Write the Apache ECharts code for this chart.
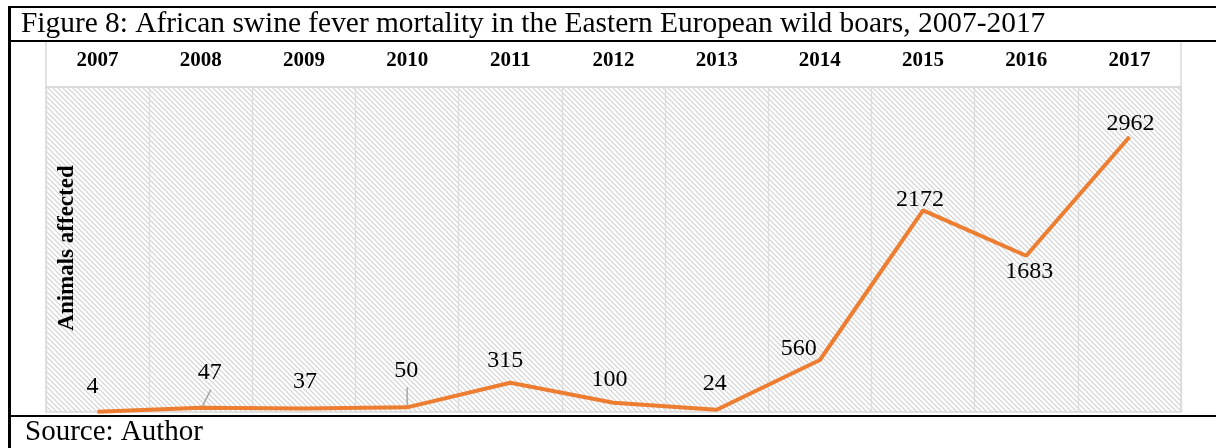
<!DOCTYPE html>
<html>
<head>
<meta charset="utf-8">
<script src="https://cdn.jsdelivr.net/npm/echarts@6/dist/echarts.min.js"></script>
<style>html,body{margin:0;padding:0;background:#fff;}#c{width:1216px;height:448px;}</style>
</head>
<body>
<div id="c"></div>
<script>
var years = ['2007','2008','2009','2010','2011','2012','2013','2014','2015','2016','2017'];
var animalsAffected = [4, 47, 37, 50, 315, 100, 24, 560, 2172, 1683, 2962];
var titleText = 'Figure 8: African swine fever mortality in the Eastern European wild boars, 2007-2017';
var sourceText = 'Source: Author';
var yAxisName = 'Animals affected';

// label placement (style only)
var labelOffsets = [[-5,-25],[9,-35],[1,-27],[-1,-37],[-5,-22],[-4,-23],[-2,-26],[-21,-11],[-3,-11],[3,16],[1,-13]];
// leader line pixel shifts: [start dx, end dx, end dy]
var leaderIdx = [1, 3];
var leaderShift = [[1, 10, -18], [0, 0, -20]];

var cv = document.createElement('canvas');
cv.width = 5; cv.height = 5;
var ctx = cv.getContext('2d');
ctx.fillStyle = '#ffffff'; ctx.fillRect(0,0,5,5);
ctx.strokeStyle = '#d2d2d2'; ctx.lineWidth = 1.15;
ctx.beginPath();
ctx.moveTo(-1,-1); ctx.lineTo(6,6);
ctx.moveTo(-1,4); ctx.lineTo(1,6);
ctx.moveTo(4,-1); ctx.lineTo(6,1);
ctx.stroke();

var serif = '"Liberation Serif", "Times New Roman", serif';
var chart = echarts.init(document.getElementById('c'), null, {renderer:'canvas'});

var seriesData = animalsAffected.map(function(v, i){
  return {value: v, label: {offset: labelOffsets[i]}};
});
var leaderData = leaderIdx.map(function(i){ return [i, animalsAffected[i]]; });

chart.setOption({
  animation: false,
  backgroundColor: '#fff',
  grid: {left: 46, right: 35, top: 87, bottom: 36, show: true,
         backgroundColor: {image: cv, repeat: 'repeat'}, borderColor: '#d9d9d9', borderWidth: 1.5},
  xAxis: {type: 'category', data: years, position: 'top', boundaryGap: true,
    axisLine: {show: false}, axisTick: {show: false},
    axisLabel: {fontFamily: serif, fontWeight: 'bold', fontSize: 21, color: '#000', margin: 16},
    splitLine: {show: true, lineStyle: {color: '#dcdcdc', width: 1.3}}},
  yAxis: {type: 'value', min: 0, max: 3500, show: false, splitLine: {show: false}},
  series: [{
    type: 'custom', data: leaderData, z: 3, silent: true,
    renderItem: function(params, api){
      var p = api.coord([api.value(0), api.value(1)]);
      var s = leaderShift[params.dataIndex];
      return {type: 'line', shape: {x1: p[0] + s[0], y1: p[1], x2: p[0] + s[1], y2: p[1] + s[2]},
              style: {stroke: '#a6a6a6', lineWidth: 1.5}};
    }
  }, {
    type: 'line', data: seriesData, symbol: 'circle', symbolSize: 1, showSymbol: true, z: 4,
    itemStyle: {color: '#ED7D31'},
    lineStyle: {color: '#ED7D31', width: 4},
    label: {show: true, position: 'inside', fontFamily: serif, fontSize: 24, color: '#000'}
  }],
  graphic: [
    {type: 'rect', shape: {x: 46, y: 41, width: 1135, height: 46}, style: {fill: 'none', stroke: '#d9d9d9', lineWidth: 1.5}, z: 1},
    {type: 'text', x: 21, y: 24, style: {text: titleText, font: '29.4px ' + serif, fill: '#000', textVerticalAlign: 'middle'}, z: 10},
    {type: 'text', x: 25, y: 432, style: {text: sourceText, font: '29px ' + serif, fill: '#000', textVerticalAlign: 'middle'}, z: 10},
    {type: 'text', x: 67, y: 248, rotation: Math.PI/2, style: {text: yAxisName, font: 'bold 23px ' + serif, fill: '#000', textAlign: 'center', textVerticalAlign: 'middle'}, z: 10},
    {type: 'line', shape: {x1: 8, y1: 7, x2: 1216, y2: 7}, style: {stroke: '#000', lineWidth: 2}, z: 20},
    {type: 'line', shape: {x1: 8, y1: 41, x2: 1216, y2: 41}, style: {stroke: '#000', lineWidth: 2}, z: 20},
    {type: 'line', shape: {x1: 8, y1: 416, x2: 1216, y2: 416}, style: {stroke: '#000', lineWidth: 2}, z: 20},
    {type: 'line', shape: {x1: 9.5, y1: 6, x2: 9.5, y2: 448}, style: {stroke: '#000', lineWidth: 3}, z: 20}
  ]
});
</script>
</body>
</html>
